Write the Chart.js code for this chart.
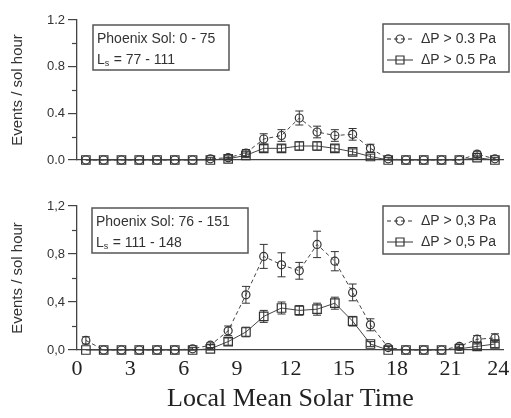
<!DOCTYPE html>
<html>
<head>
<meta charset="utf-8">
<script src="https://cdn.jsdelivr.net/npm/chart.js@4.4.1/dist/chart.umd.min.js"></script>
<style>
  html, body { margin: 0; padding: 0; background: #fff; }
  #wrap { position: relative; width: 511px; height: 418px; }
  canvas { position: absolute; left: 0; }
  #top { top: 0; }
  #bottom { top: 180px; }
</style>
</head>
<body>
<div id="wrap">
  <canvas id="top" width="511" height="180"></canvas>
  <canvas id="bottom" width="511" height="238"></canvas>
</div>
<script>
// hour bins (local mean solar time, bin centres)
var hours = [0.5, 1.5, 2.5, 3.5, 4.5, 5.5, 6.5, 7.5, 8.5, 9.5, 10.5, 11.5,
             12.5, 13.5, 14.5, 15.5, 16.5, 17.5, 18.5, 19.5, 20.5, 21.5, 22.5, 23.5];
var xTicks = [0, 3, 6, 9, 12, 15, 18, 21, 24];

// sols 0 - 75
var early03 = [0, 0, 0, 0, 0, 0, 0, 0.01, 0.02, 0.06, 0.18, 0.21,
               0.36, 0.24, 0.21, 0.22, 0.10, 0.01, 0, 0, 0, 0, 0.05, 0.01];
var early03Err = [0, 0, 0, 0, 0, 0, 0, 0.01, 0.015, 0.03, 0.045, 0.05,
                  0.06, 0.05, 0.05, 0.05, 0.035, 0.01, 0, 0, 0, 0, 0.025, 0.01];
var early05 = [0, 0, 0, 0, 0, 0, 0, 0, 0.01, 0.04, 0.10, 0.10,
               0.12, 0.12, 0.10, 0.07, 0.03, 0, 0, 0, 0, 0, 0.02, 0];
var early05Err = [0, 0, 0, 0, 0, 0, 0, 0, 0.01, 0.02, 0.03, 0.03,
                  0.035, 0.035, 0.03, 0.025, 0.02, 0, 0, 0, 0, 0, 0.015, 0];

// sols 76 - 151
var late03 = [0.08, 0, 0, 0, 0, 0, 0.01, 0.04, 0.16, 0.46, 0.78, 0.71,
              0.66, 0.88, 0.74, 0.48, 0.21, 0.02, 0, 0, 0, 0.03, 0.09, 0.10];
var late03Err = [0.03, 0, 0, 0, 0, 0, 0.01, 0.02, 0.04, 0.07, 0.1, 0.1,
                 0.07, 0.11, 0.08, 0.07, 0.05, 0.01, 0, 0, 0, 0.02, 0.03, 0.035];
var late05 = [0, 0, 0, 0, 0, 0, 0, 0.01, 0.07, 0.15, 0.28, 0.35,
              0.33, 0.34, 0.39, 0.24, 0.05, 0, 0, 0, 0, 0.01, 0.03, 0.05];
var late05Err = [0, 0, 0, 0, 0, 0, 0, 0.01, 0.03, 0.04, 0.05, 0.05,
                 0.04, 0.05, 0.05, 0.04, 0.02, 0, 0, 0, 0, 0.01, 0.02, 0.03];

var ink = '#333';
var sans = "'Liberation Sans', Arial, sans-serif";
var serif = "'Liberation Serif', 'DejaVu Serif', serif";

function points(vals) {
  return vals.map(function (v, i) { return { x: hours[i], y: v }; });
}

// vertical error bars with caps, drawn through the markers
var errorBars = {
  id: 'errorBars',
  afterDatasetsDraw: function (chart) {
    var ctx = chart.ctx, xs = chart.scales.x, ys = chart.scales.y;
    ctx.save();
    ctx.strokeStyle = ink;
    ctx.lineWidth = 1;
    chart.data.datasets.forEach(function (ds) {
      (ds.errors || []).forEach(function (e, i) {
        if (!e) return;
        var x = xs.getPixelForValue(ds.data[i].x);
        var y1 = ys.getPixelForValue(ds.data[i].y + e);
        var y2 = ys.getPixelForValue(Math.max(ds.data[i].y - e, 0));
        ctx.beginPath();
        ctx.moveTo(x, y1); ctx.lineTo(x, y2);
        ctx.moveTo(x - 4, y1); ctx.lineTo(x + 4, y1);
        ctx.moveTo(x - 4, y2); ctx.lineTo(x + 4, y2);
        ctx.stroke();
      });
    });
    ctx.restore();
  }
};

// minor y ticks, note box and legend box
var panelDecor = {
  id: 'panelDecor',
  afterDraw: function (chart, args, opts) {
    var ctx = chart.ctx, ys = chart.scales.y, left = chart.chartArea.left;
    ctx.save();
    ctx.strokeStyle = '#444';
    ctx.lineWidth = 1.2;
    [0.2, 0.6, 1.0].forEach(function (v) {
      var y = Math.round(ys.getPixelForValue(v)) + 0.5;
      ctx.beginPath(); ctx.moveTo(left - 5, y); ctx.lineTo(left, y); ctx.stroke();
    });

    // note box
    var n = opts.note;
    ctx.lineWidth = 1.5;
    ctx.strokeStyle = '#555';
    ctx.strokeRect(n.x, n.y, n.w, n.h);
    ctx.fillStyle = ink;
    ctx.font = '14px ' + sans;
    ctx.textBaseline = 'middle';
    ctx.textAlign = 'left';
    ctx.fillText(n.sol, n.x + 4, n.y + 14);
    var ly = n.y + 35;
    ctx.fillText('L', n.x + 4, ly);
    var lw = ctx.measureText('L').width;
    ctx.font = '9px ' + sans;
    ctx.fillText('s', n.x + 4 + lw, ly + 4);
    ctx.font = '14px ' + sans;
    ctx.fillText(' = ' + n.ls, n.x + 4 + lw + 5, ly);

    // legend box
    var g = opts.legend;
    ctx.lineWidth = 1.5;
    ctx.strokeStyle = '#555';
    ctx.strokeRect(g.x, g.y, g.w, g.h);
    chart.data.datasets.forEach(function (ds, i) {
      var ry = g.y + 15 + i * 21;
      ctx.strokeStyle = ink;
      ctx.lineWidth = 1;
      ctx.setLineDash(ds.borderDash || []);
      ctx.beginPath(); ctx.moveTo(g.x + 4, ry); ctx.lineTo(g.x + 30, ry); ctx.stroke();
      ctx.setLineDash([]);
      ctx.lineWidth = 1.2;
      ctx.beginPath();
      if (ds.pointStyle === 'circle') {
        ctx.arc(g.x + 17, ry, 4, 0, Math.PI * 2);
      } else {
        ctx.rect(g.x + 13, ry - 4, 8, 8);
      }
      ctx.stroke();
      ctx.fillStyle = ink;
      ctx.font = '14px ' + sans;
      ctx.fillText(ds.label, g.x + 38, ry);
    });
    ctx.restore();
  }
};

function makePanel(id, opt) {
  var datasets = [
    {
      label: opt.labels[0],
      data: points(opt.a), errors: opt.aErr,
      pointStyle: 'circle', pointRadius: 4,
      borderDash: [4, 3]
    },
    {
      label: opt.labels[1],
      data: points(opt.b), errors: opt.bErr,
      pointStyle: 'rect', pointRadius: 6
    }
  ];
  datasets.forEach(function (ds) {
    ds.borderColor = '#444';
    ds.borderWidth = 1;
    ds.pointBorderColor = ink;
    ds.pointBackgroundColor = 'rgba(255,255,255,0)';
    ds.pointBorderWidth = 1.2;
    ds.tension = 0;
    ds.clip = false;
  });

  return new Chart(document.getElementById(id), {
    type: 'line',
    data: { datasets: datasets },
    options: {
      responsive: false,
      animation: false,
      events: [],
      layout: { padding: { top: opt.padTop, right: 7, left: 0, bottom: 0 } },
      plugins: {
        legend: { display: false },
        tooltip: { enabled: false },
        panelDecor: { note: opt.note, legend: opt.legend }
      },
      scales: {
        x: {
          type: 'linear', min: 0, max: 24,
          grid: { display: false, drawTicks: false },
          border: { display: true, color: '#444', width: 1.3 },
          afterBuildTicks: function (s) {
            s.ticks = xTicks.map(function (v) { return { value: v }; });
          },
          ticks: {
            display: opt.showX, padding: 6, color: '#222',
            font: { family: serif, size: 22 },
            // keep the last label inside the canvas
            callback: function (v) { return v === 24 ? '24\u2002' : String(v); }
          },
          title: {
            display: opt.showX, text: 'Local Mean Solar Time', color: '#222',
            font: { family: serif, size: 26 }, padding: { top: 0, bottom: 3 }
          },
          afterFit: function (s) {
            s.height = opt.xHeight; s.paddingLeft = 0; s.paddingRight = 0;
          }
        },
        y: {
          min: 0, max: 1.2,
          ticks: {
            stepSize: 0.4, padding: 3, color: ink,
            font: { family: sans, size: 13 },
            callback: function (v) {
              var t = v.toFixed(1);
              return opt.comma ? t.replace('.', ',') : t;
            }
          },
          grid: { display: true, drawOnChartArea: false, tickLength: 9, color: '#444', lineWidth: 1.2 },
          border: { display: true, color: '#444', width: 1.3 },
          title: {
            display: true, text: 'Events / sol hour', color: ink,
            font: { family: sans, size: 15 }, padding: { top: 9, bottom: 0 }
          },
          afterFit: function (s) {
            s.width = 77; s.paddingTop = 0; s.paddingBottom = 0;
          }
        }
      }
    },
    plugins: [errorBars, panelDecor]
  });
}

makePanel('top', {
  a: early03, aErr: early03Err, b: early05, bErr: early05Err,
  labels: ['\u0394P > 0.3 Pa', '\u0394P > 0.5 Pa'],
  padTop: 20, xHeight: 20, showX: false, comma: false,
  note: { x: 93, y: 25, w: 136, h: 45, sol: 'Phoenix Sol: 0 - 75', ls: '77 - 111' },
  legend: { x: 383, y: 24, w: 126, h: 48 }
});

makePanel('bottom', {
  a: late03, aErr: late03Err, b: late05, bErr: late05Err,
  labels: ['\u0394P > 0,3 Pa', '\u0394P > 0,5 Pa'],
  padTop: 26, xHeight: 68, showX: true, comma: true,
  note: { x: 92, y: 28, w: 156, h: 45, sol: 'Phoenix Sol: 76 - 151', ls: '111 - 148' },
  legend: { x: 383, y: 26, w: 126, h: 48 }
});
</script>
</body>
</html>
